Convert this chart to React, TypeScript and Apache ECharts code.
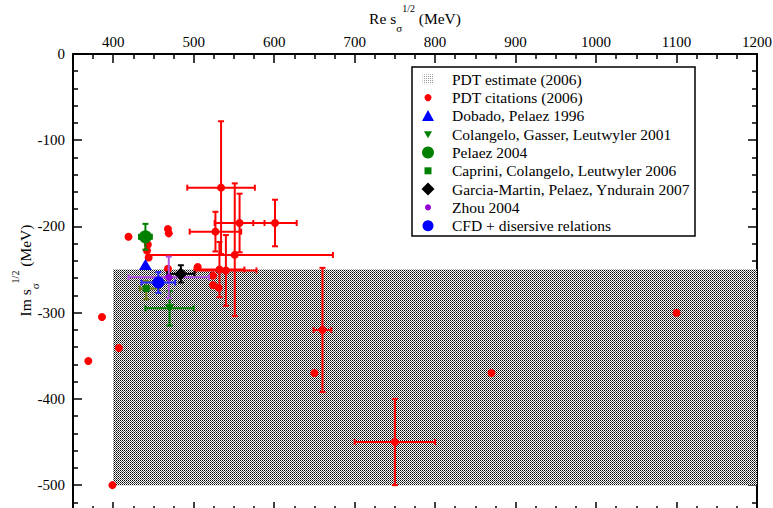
import React, { useEffect, useRef } from "react";
import * as echarts from "echarts";

const FONT = '"Liberation Serif", "Times New Roman", serif';

// axis ranges and ticks
const xRange = [350, 1200];
const yRange = [-530, 0];
const xMajorTicks = [400, 500, 600, 700, 800, 900, 1000, 1100, 1200];
const xMinorTicks = [375, 425, 450, 475, 525, 550, 575, 625, 650, 675, 725, 750, 775, 825, 850, 875, 925, 950, 975, 1025, 1050, 1075, 1125, 1150, 1175];
const yMajorTicks = [0, -100, -200, -300, -400, -500];
const yMinorTicks = [-20, -40, -60, -80, -120, -140, -160, -180, -220, -240, -260, -280, -320, -340, -360, -380, -420, -440, -460, -480, -520];

const legendNames = [
  "PDT estimate (2006)",
  "PDT citations (2006)",
  "Dobado, Pelaez 1996",
  "Colangelo, Gasser, Leutwyler 2001",
  "Pelaez 2004",
  "Caprini, Colangelo, Leutwyler 2006",
  "Garcia-Martin, Pelaez, Yndurain 2007",
  "Zhou 2004",
  "CFD + disersive relations",
];

// PDT estimate region: [xFrom, xTo, yFrom, yTo]
const pdtEstimate = [400, 1200, -500, -250];

// [Re, Im, xErrMinus, xErrPlus, yErrMinus, yErrPlus]
const pdtCitations = [
  [369, -356, 0, 0, 0, 0],
  [386, -305, 0, 0, 0, 0],
  [399, -500, 0, 0, 0, 0],
  [407, -341, 0, 0, 0, 0],
  [419, -212, 0, 0, 0, 0],
  [443, -221, 0, 0, 0, 0],
  [442, -228, 0, 0, 0, 0],
  [444, -236, 0, 0, 0, 0],
  [468, -203, 0, 0, 0, 0],
  [469, -208, 0, 0, 0, 0],
  [468, -249, 0, 0, 0, 0],
  [505, -247, 0, 0, 0, 0],
  [524, -257, 0, 0, 0, 0],
  [524, -268, 0, 0, 0, 0],
  [531, -271, 0, 0, 0, 0],
  [534, -155, 42, 42, 77, 77],
  [527, -206, 32, 32, 23, 23],
  [557, -196, 31, 31, 34, 34],
  [601, -196, 27, 27, 27, 27],
  [551, -233, 108, 122, 71, 83],
  [532, -250, 31, 31, 32, 32],
  [540, -251, 38, 38, 41, 41],
  [650, -370, 0, 0, 0, 0],
  [660, -320, 11, 11, 72, 72],
  [750, -450, 50, 50, 50, 50],
  [870, -370, 0, 0, 0, 0],
  [1100, -300, 0, 0, 0, 0],
];
const dobado1996 = [[440, -244, 0, 0, 0, 0]];
const colangelo2001 = [[470, -295, 30, 30, 20, 20]];
const pelaez2004 = [[440, -212, 8, 8, 15, 15]];
const caprini2006 = [[441, -272, 8, 16, 12.5, 9]];
const garcia2007 = [[484, -255, 17, 17, 10, 10]];
const zhou2004 = [[469, -259, 50, 50, 24, 24]];
const cfd = [[456, -265, 21, 21, 12, 12]];

function makePattern(dark: boolean): any {
  const c = document.createElement("canvas");
  c.width = 2;
  c.height = 2;
  const g = c.getContext("2d")!;
  g.fillStyle = "#ffffff";
  g.fillRect(0, 0, 2, 2);
  if (dark) {
    g.fillStyle = "#000000";
    g.fillRect(0, 0, 1, 1);
    g.fillStyle = "#505050";
    g.fillRect(1, 1, 1, 1);
  } else {
    g.fillStyle = "#9a9a9a";
    g.fillRect(0, 0, 1, 1);
  }
  return { image: c, repeat: "repeat", imageWidth: 2, imageHeight: 2 };
}

function errorBars(name: string, data: number[][], color: string, z: number) {
  return {
    type: "custom",
    name: name + " errors",
    xAxisIndex: 0,
    yAxisIndex: 0,
    silent: true,
    z,
    data: data.map((d) => [d[0], d[1], d[0] - d[2], d[0] + d[3], d[1] - d[4], d[1] + d[5]]),
    encode: { x: [0, 2, 3], y: [1, 4, 5] },
    renderItem: (_p: any, api: any) => {
      const x = api.value(0), y = api.value(1);
      const xl = api.value(2), xh = api.value(3), yl = api.value(4), yh = api.value(5);
      const style = { stroke: color, lineWidth: 2 };
      const cap = 3;
      const children: any[] = [];
      if (xh > xl) {
        const a = api.coord([xl, y]), b = api.coord([xh, y]);
        children.push({ type: "line", shape: { x1: a[0], y1: a[1], x2: b[0], y2: b[1] }, style });
        children.push({ type: "line", shape: { x1: a[0], y1: a[1] - cap, x2: a[0], y2: a[1] + cap }, style });
        children.push({ type: "line", shape: { x1: b[0], y1: b[1] - cap, x2: b[0], y2: b[1] + cap }, style });
      }
      if (yh > yl) {
        const a = api.coord([x, yl]), b = api.coord([x, yh]);
        children.push({ type: "line", shape: { x1: a[0], y1: a[1], x2: b[0], y2: b[1] }, style });
        children.push({ type: "line", shape: { x1: a[0] - cap, y1: a[1], x2: a[0] + cap, y2: a[1] }, style });
        children.push({ type: "line", shape: { x1: b[0] - cap, y1: b[1], x2: b[0] + cap, y2: b[1] }, style });
      }
      return { type: "group", children };
    },
  };
}

function points(name: string, data: number[][], color: string, symbol: string, size: any, z: number, rotate = 0) {
  return {
    type: "scatter",
    name,
    xAxisIndex: 0,
    yAxisIndex: 0,
    z,
    symbol,
    symbolSize: size,
    symbolRotate: rotate,
    itemStyle: { color, opacity: 1 },
    data: data.map((d) => [d[0], d[1]]),
  };
}

export default function App() {
  const ref = useRef<HTMLDivElement>(null);
  useEffect(() => {
    if (!ref.current) return;
    const chart = echarts.init(ref.current, undefined, { renderer: "svg" });
    const darkPattern = makePattern(true);
    const lightPattern = makePattern(false);

    const axisLine = { show: true, onZero: false, lineStyle: { color: "#000", width: 2 } };
    const tickStyle = { color: "#000", width: 1.5 };
    const labelStyle = { fontSize: 15, fontFamily: FONT, color: "#000", formatter: (v: number) => String(v) };
    const nameRich = {
      a: { fontSize: 15.5, fontFamily: FONT, color: "#000", lineHeight: 30 },
      b: { fontSize: 11, fontFamily: FONT, color: "#000", lineHeight: 12, verticalAlign: "bottom" },
      c: { fontSize: 10, fontFamily: FONT, color: "#000", lineHeight: 12, verticalAlign: "top" },
    };

    const xAxisBase = { type: "value", min: xRange[0], max: xRange[1], splitLine: { show: false } };
    const yAxisBase = { type: "value", min: yRange[0], max: yRange[1], splitLine: { show: false } };

    const legendX = 428;
    const legendY0 = 79.3;
    const legendStep = 18.3;
    const legendGraphics: any[] = [
      {
        type: "rect",
        shape: { x: 412, y: 67, width: 283, height: 169 },
        style: { fill: "#ffffff", stroke: "#000000", lineWidth: 1.5 },
        z: 100,
      },
    ];
    legendNames.forEach((name, i) => {
      const y = legendY0 + legendStep * i;
      let sym: any;
      switch (i) {
        case 0:
          sym = { type: "rect", shape: { x: legendX - 5.5, y: y - 5, width: 11, height: 10 }, style: { fill: lightPattern } };
          break;
        case 1:
          sym = { type: "circle", shape: { cx: legendX, cy: y, r: 3.5 }, style: { fill: "#ff0000" } };
          break;
        case 2:
          sym = { type: "polygon", shape: { points: [[legendX - 6, y + 5], [legendX + 6, y + 5], [legendX, y - 6]] }, style: { fill: "#0000ff" } };
          break;
        case 3:
          sym = { type: "polygon", shape: { points: [[legendX - 4, y - 3], [legendX + 4, y - 3], [legendX, y + 4]] }, style: { fill: "#008000" } };
          break;
        case 4:
          sym = { type: "circle", shape: { cx: legendX, cy: y, r: 6 }, style: { fill: "#008000" } };
          break;
        case 5:
          sym = { type: "rect", shape: { x: legendX - 3.5, y: y - 3.5, width: 7, height: 7 }, style: { fill: "#008000" } };
          break;
        case 6:
          sym = { type: "polygon", shape: { points: [[legendX, y - 6.5], [legendX + 6.5, y], [legendX, y + 6.5], [legendX - 6.5, y]] }, style: { fill: "#000000" } };
          break;
        case 7:
          sym = { type: "circle", shape: { cx: legendX, cy: y, r: 3 }, style: { fill: "#9400d3" } };
          break;
        default:
          sym = { type: "circle", shape: { cx: legendX, cy: y, r: 5.5 }, style: { fill: "#0000ff" } };
      }
      sym.z = 101;
      legendGraphics.push(sym);
      legendGraphics.push({
        type: "text",
        z: 101,
        x: 452,
        y,
        style: { text: name, fontSize: 15.5, fontFamily: FONT, fill: "#000", align: "left", verticalAlign: "middle" },
      });
    });

    const option: any = {
      animation: false,
      backgroundColor: "#ffffff",
      grid: { left: 73, top: 54, width: 684, height: 457, containLabel: false, outerBoundsMode: "none" },
      xAxis: [
        {
          ...xAxisBase,
          position: "top",
          axisLine,
          axisTick: { show: true, inside: true, length: 9, customValues: xMajorTicks, lineStyle: tickStyle },
          axisLabel: { show: true, customValues: xMajorTicks, margin: 5, ...labelStyle },
          name: "{a|Re s}{b|σ}{c|1/2}{a| (MeV)}",
          nameLocation: "middle",
          nameGap: 21,
          nameMoveOverlap: false,
          nameTextStyle: { rich: nameRich, fontFamily: FONT, color: "#000" },
        },
        {
          ...xAxisBase,
          position: "top",
          axisLine: { show: false, onZero: false },
          axisTick: { show: true, inside: true, length: 5, customValues: xMinorTicks, lineStyle: tickStyle },
          axisLabel: { show: false },
        },
        {
          ...xAxisBase,
          position: "bottom",
          axisLine,
          axisTick: { show: true, inside: true, length: 9, customValues: xMajorTicks, lineStyle: tickStyle },
          axisLabel: { show: false },
        },
        {
          ...xAxisBase,
          position: "bottom",
          axisLine: { show: false, onZero: false },
          axisTick: { show: true, inside: true, length: 5, customValues: xMinorTicks, lineStyle: tickStyle },
          axisLabel: { show: false },
        },
      ],
      yAxis: [
        {
          ...yAxisBase,
          position: "left",
          axisLine,
          axisTick: { show: true, inside: true, length: 9, customValues: yMajorTicks, lineStyle: tickStyle },
          axisLabel: { show: true, customValues: yMajorTicks, margin: 8, ...labelStyle },
          name: "{a|Im s}{b|σ}{c|1/2}{a| (MeV)}",
          nameLocation: "middle",
          nameGap: 33,
          nameMoveOverlap: false,
          nameTextStyle: { rich: nameRich, fontFamily: FONT, color: "#000", padding: [0, 0, 0, 24] },
        },
        {
          ...yAxisBase,
          position: "left",
          axisLine: { show: false, onZero: false },
          axisTick: { show: true, inside: true, length: 5, customValues: yMinorTicks, lineStyle: tickStyle },
          axisLabel: { show: false },
        },
        {
          ...yAxisBase,
          position: "right",
          axisLine,
          axisTick: { show: true, inside: true, length: 9, customValues: yMajorTicks, lineStyle: tickStyle },
          axisLabel: { show: false },
        },
        {
          ...yAxisBase,
          position: "right",
          axisLine: { show: false, onZero: false },
          axisTick: { show: true, inside: true, length: 5, customValues: yMinorTicks, lineStyle: tickStyle },
          axisLabel: { show: false },
        },
      ],
      graphic: legendGraphics,
      series: [
        {
          type: "custom",
          name: legendNames[0],
          xAxisIndex: 0,
          yAxisIndex: 0,
          silent: true,
          z: 1,
          data: [pdtEstimate],
          encode: { x: [0, 1], y: [2, 3] },
          renderItem: (_p: any, api: any) => {
            const a = api.coord([api.value(0), api.value(3)]);
            const b = api.coord([api.value(1), api.value(2)]);
            return {
              type: "rect",
              shape: { x: a[0], y: a[1], width: b[0] - a[0], height: b[1] - a[1] },
              style: { fill: darkPattern },
            };
          },
        },
        errorBars(legendNames[1], pdtCitations, "#ff0000", 2),
        points(legendNames[1], pdtCitations, "#ff0000", "circle", 8, 3),
        errorBars(legendNames[3], colangelo2001, "#008000", 4),
        errorBars(legendNames[4], pelaez2004, "#008000", 4),
        errorBars(legendNames[5], caprini2006, "#6b7a10", 4),
        errorBars(legendNames[6], garcia2007, "#000000", 4),
        errorBars(legendNames[7], zhou2004, "#b050e0", 4),
        errorBars(legendNames[8], cfd, "#2a2aff", 4),
        points(legendNames[2], dobado1996, "#0000ff", "triangle", [13, 11], 5),
        points(legendNames[3], colangelo2001, "#008000", "triangle", [9, 8], 5, 180),
        points(legendNames[4], pelaez2004, "#008000", "circle", 13, 5),
        points(legendNames[5], caprini2006, "#008000", "rect", 7, 5),
        points(legendNames[6], garcia2007, "#000000", "diamond", 13, 5),
        points(legendNames[7], zhou2004, "#9400d3", "circle", 7, 5),
        points(legendNames[8], cfd, "#0000ff", "circle", 12, 5),
      ],
    };
    chart.setOption(option);
    return () => chart.dispose();
  }, []);
  return (
    <div style={{ position: "absolute", left: 0, top: 0, width: 773, height: 508, overflow: "hidden", background: "#fff" }}>
      <div ref={ref} style={{ width: 773, height: 508 }} />
    </div>
  );
}
